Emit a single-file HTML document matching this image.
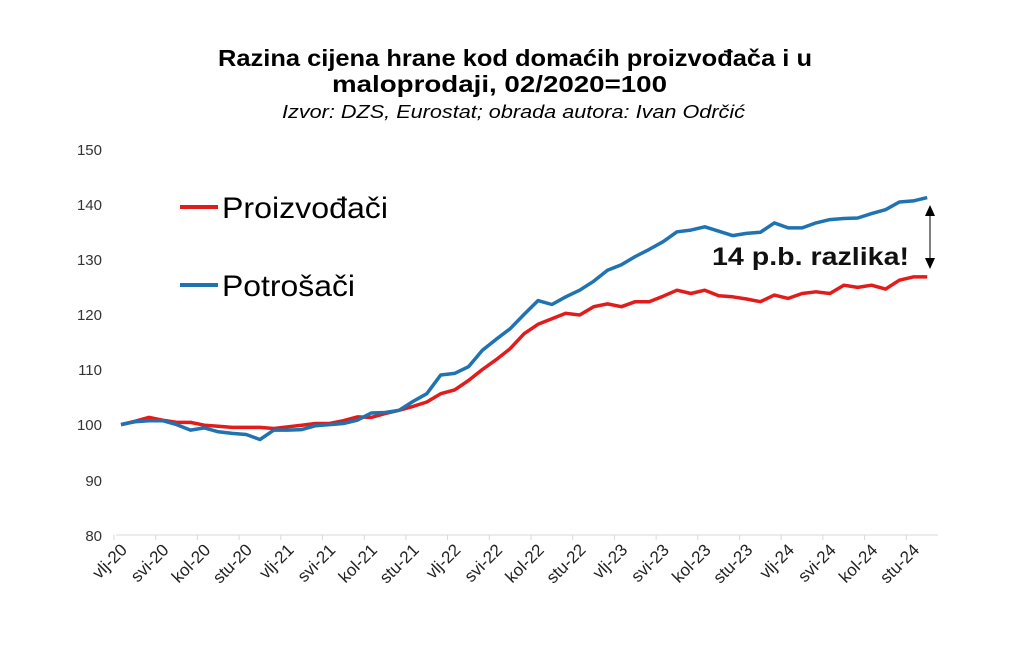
<!DOCTYPE html>
<html><head><meta charset="utf-8"><style>
body{margin:0;background:#fff;}
svg{display:block;font-family:"Liberation Sans",sans-serif;}
</style></head><body>
<svg id="s" width="1024" height="659" viewBox="0 0 1024 659" xmlns="http://www.w3.org/2000/svg">
<rect width="1024" height="659" fill="#fff"/>
<text x="218" y="66" font-size="23" font-weight="bold" fill="#000" textLength="594" lengthAdjust="spacingAndGlyphs">Razina cijena hrane kod domaćih proizvođača i u</text>
<text x="332" y="92" font-size="23" font-weight="bold" fill="#000" textLength="335" lengthAdjust="spacingAndGlyphs">maloprodaji, 02/2020=100</text>
<text x="282" y="118" font-size="18.5" font-style="italic" fill="#000" textLength="463" lengthAdjust="spacingAndGlyphs">Izvor: DZS, Eurostat; obrada autora: Ivan Odrčić</text>
<g font-size="15" fill="#333" text-anchor="end">
<text x="102" y="155">150</text><text x="102" y="210">140</text><text x="102" y="265">130</text>
<text x="102" y="320">120</text><text x="102" y="375">110</text><text x="102" y="430">100</text>
<text x="102" y="486">90</text><text x="102" y="541">80</text>
</g>
<line x1="116" y1="535" x2="938" y2="535" stroke="#d9d9d9" stroke-width="1"/>
<g id="ticks"></g>
<g id="xl" font-size="17" fill="#222"></g>
<polyline id="red" fill="none" stroke="#e21b1b" stroke-width="3.5" stroke-linejoin="round"/>
<polyline id="blue" fill="none" stroke="#1f73b0" stroke-width="3.5" stroke-linejoin="round"/>
<line x1="180" y1="207" x2="218" y2="207" stroke="#e21b1b" stroke-width="4"/>
<text x="222" y="218" font-size="30" fill="#000" textLength="166" lengthAdjust="spacingAndGlyphs">Proizvođači</text>
<line x1="180" y1="285" x2="218" y2="285" stroke="#1f73b0" stroke-width="4"/>
<text x="222" y="296" font-size="30" fill="#000" textLength="133" lengthAdjust="spacingAndGlyphs">Potrošači</text>
<text x="712" y="265" font-size="25" font-weight="bold" fill="#111" textLength="197" lengthAdjust="spacingAndGlyphs">14 p.b. razlika!</text>
<line x1="930" y1="212" x2="930" y2="262" stroke="#000" stroke-width="1"/>
<polygon points="925,216 935,216 930,205" fill="#000"/>
<polygon points="925,258 935,258 930,269" fill="#000"/>
</svg>
<script>
var blue=[100,100.5,100.7,100.7,100,99,99.4,98.7,98.4,98.2,97.3,99,99,99.1,99.8,100,100.2,100.8,102.1,102.2,102.6,104.2,105.6,109,109.3,110.5,113.5,115.5,117.4,120,122.5,121.8,123.2,124.4,126,128,129,130.5,131.8,133.2,135,135.3,135.9,135.1,134.3,134.7,134.9,136.6,135.7,135.7,136.6,137.2,137.4,137.5,138.3,139,140.4,140.6,141.2];
var red=[100,100.6,101.3,100.8,100.4,100.4,99.9,99.7,99.5,99.5,99.5,99.3,99.6,99.9,100.2,100.2,100.7,101.4,101.3,102,102.6,103.3,104.1,105.6,106.3,108,110,111.8,113.8,116.5,118.2,119.2,120.2,119.9,121.4,121.9,121.4,122.3,122.3,123.3,124.4,123.8,124.4,123.4,123.2,122.8,122.3,123.5,122.9,123.8,124.1,123.8,125.3,124.9,125.3,124.6,126.2,126.8,126.8];
function X(i){return 121+13.9*i;}function Y(v){return 424.6-(v-100)*5.51;}
function pts(a){return a.map(function(v,i){return X(i).toFixed(1)+","+Y(v).toFixed(1);}).join(" ");}
document.getElementById("red").setAttribute("points",pts(red));
document.getElementById("blue").setAttribute("points",pts(blue));
var ns="http://www.w3.org/2000/svg";
var labs=["vlj","svi","kol","stu"];var xl=document.getElementById("xl"),tk=document.getElementById("ticks");
for(var k=0;k<20;k++){var x=X(3*k);
var t=document.createElementNS(ns,"text");t.setAttribute("text-anchor","end");
t.setAttribute("transform","translate("+(x+7)+",551) rotate(-45)");
t.textContent=labs[k%4]+"-"+(20+Math.floor(k/4));xl.appendChild(t);}
for(var k=0;k<20;k++){var l=document.createElementNS(ns,"line");var tx=114+41.7*k;
l.setAttribute("x1",tx);l.setAttribute("x2",tx);l.setAttribute("y1",535);l.setAttribute("y2",540);l.setAttribute("stroke","#d9d9d9");tk.appendChild(l);}
</script>
</body></html>
